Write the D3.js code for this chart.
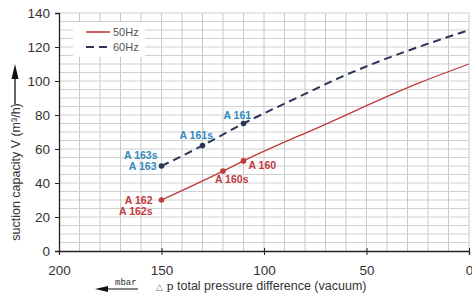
<!DOCTYPE html>
<html>
<head>
<meta charset="utf-8">
<script src="https://cdn.jsdelivr.net/npm/d3@7"></script>
<style>
	body { margin: 0; background: #fff; }
	svg { font-family: "Liberation Sans", Arial, sans-serif; }
</style>
</head>
<body>
<svg id="chart" width="472" height="298"></svg>
<script>
// pressure difference (mbar) and suction capacity (m3/h)
var pressure50 = [150, 120, 110, 72, 24, 0];
var flow50 = [30, 47, 53, 73.5, 99, 110];
var pressure60 = [150, 130, 110, 85, 63, 0];
var flow60 = [50, 62, 75, 89.5, 102, 130];

// pumps marked on the curves: [name, pressure]
var pumps50 = [["A 162", 150], ["A 160s", 120], ["A 160", 110]];
var pumps60 = [["A 163", 150], ["A 161s", 130], ["A 161", 110]];

var xTicks = [200, 150, 100, 50, 0];
var yTicks = [0, 20, 40, 60, 80, 100, 120, 140];
var legendNames = ["50Hz", "60Hz"];

var RED = "#c0393b";
var NAVY = "#2c3556";
var BLUE = "#3489be";

var svg = d3.select("#chart");
var plotLeft = 59, plotRight = 469, plotTop = 13, plotBottom = 251;

var x = d3.scaleLinear().domain([200, 0]).range([plotLeft, plotRight]);
var y = d3.scaleLinear().domain([0, 140]).range([plotBottom, plotTop]);

//===============================================
// grid
//===============================================
var grid = svg.append("g");
grid.selectAll("line.v")
	.data(d3.range(190, -1, -10))
	.enter().append("line")
	.attr("x1", function (d){return x(d);})
	.attr("x2", function (d){return x(d);})
	.attr("y1", plotTop).attr("y2", plotBottom)
	.attr("stroke", "#c8c8c8").attr("stroke-width", 1);
grid.selectAll("line.h")
	.data(d3.range(5, 141, 5))
	.enter().append("line")
	.attr("x1", plotLeft).attr("x2", plotRight)
	.attr("y1", function (d){return y(d);})
	.attr("y2", function (d){return y(d);})
	.attr("stroke", "#d0d0d0").attr("stroke-width", 1);

// legend box hides the grid
svg.append("rect")
	.attr("x", 73).attr("y", 22).attr("width", 72).attr("height", 35)
	.attr("fill", "#fff");

//===============================================
// axes
//===============================================
var xAxis = svg.append("g")
	.attr("transform", "translate(0," + plotBottom + ")")
	.call(d3.axisBottom(x).tickValues(xTicks).tickSize(4).tickPadding(10));
xAxis.select(".domain").attr("stroke", "#222").attr("stroke-width", 1.3);
xAxis.selectAll(".tick line").attr("stroke", "#222").attr("y1", -3).attr("y2", 4);
xAxis.selectAll(".tick text").attr("font-size", 13.5).attr("fill", "#333")
	.attr("font-family", "Liberation Sans, Arial, sans-serif");

var yAxis = svg.append("g")
	.attr("transform", "translate(" + plotLeft + ",0)")
	.call(d3.axisLeft(y).tickValues(yTicks).tickSize(4).tickPadding(5));
yAxis.select(".domain").attr("stroke", "#222").attr("stroke-width", 1.3);
yAxis.selectAll(".tick line").attr("stroke", "#222");
yAxis.selectAll(".tick text").attr("font-size", 13.5).attr("fill", "#333")
	.attr("font-family", "Liberation Sans, Arial, sans-serif");

//===============================================
// curves
//===============================================
var line = d3.line()
	.x(function (d){return x(d[0]);})
	.y(function (d){return y(d[1]);})
	.curve(d3.curveMonotoneX);

var series50 = d3.zip(pressure50, flow50);
var series60 = d3.zip(pressure60, flow60);

svg.append("path").datum(series50)
	.attr("d", line).attr("fill", "none")
	.attr("stroke", RED).attr("stroke-width", 1.3);
svg.append("path").datum(series60)
	.attr("d", line).attr("fill", "none")
	.attr("stroke", NAVY).attr("stroke-width", 2)
	.attr("stroke-dasharray", "8,5");

function flowAt(pArr, fArr, p){
	var i = pArr.indexOf(p);
	return fArr[i];
}

// label layout: dx, dy from point, anchor, text
var labelPos = {
	"A 162": [[-9, 4, "end", "A 162"], [-9, 15, "end", "A 162s"]],
	"A 160s": [[-8, 12, "start", "A 160s"]],
	"A 160": [[5, 8, "start", "A 160"]],
	"A 163": [[-4, -7, "end", "A 163s"], [-5, 4, "end", "A 163"]],
	"A 161s": [[-23, -7, "start", "A 161s"]],
	"A 161": [[-20, -5, "start", "A 161"]]
};

function drawPumps(pumps, pArr, fArr, color, textColor){
	pumps.forEach(function (pm){
		var px = x(pm[1]), py = y(flowAt(pArr, fArr, pm[1]));
		svg.append("circle").attr("cx", px).attr("cy", py).attr("r", 2.8).attr("fill", color);
		labelPos[pm[0]].forEach(function (l){
			svg.append("text")
				.attr("x", px + l[0]).attr("y", py + l[1])
				.attr("text-anchor", l[2])
				.attr("font-size", 10.5).attr("font-weight", "bold")
				.attr("fill", textColor)
				.text(l[3]);
		});
	});
}
drawPumps(pumps50, pressure50, flow50, RED, RED);
drawPumps(pumps60, pressure60, flow60, NAVY, BLUE);

//===============================================
// legend
//===============================================
var legend = svg.append("g");
legend.append("line").attr("x1", 86).attr("x2", 110).attr("y1", 32).attr("y2", 32)
	.attr("stroke", RED).attr("stroke-width", 1.6);
legend.append("line").attr("x1", 86).attr("x2", 110).attr("y1", 47).attr("y2", 47)
	.attr("stroke", NAVY).attr("stroke-width", 2).attr("stroke-dasharray", "8,5");
legend.selectAll("text").data(legendNames).enter().append("text")
	.attr("x", 113).attr("y", function (d, i){return 36 + i * 15;})
	.attr("font-size", 11).attr("fill", "#555")
	.text(function (d){return d;});

//===============================================
// axis titles
//===============================================
svg.append("text")
	.attr("transform", "translate(20,172) rotate(-90)")
	.attr("text-anchor", "middle")
	.attr("font-size", 12.5).attr("fill", "#333")
	.text("suction capacity V (m³/h)");
svg.append("line").attr("x1", 15).attr("x2", 15).attr("y1", 104).attr("y2", 72)
	.attr("stroke", "#111").attr("stroke-width", 1.3);
svg.append("path").attr("d", "M15,64 L11.5,79 L18.5,79 Z").attr("fill", "#111");

svg.append("text")
	.attr("x", 156).attr("y", 290)
	.attr("font-size", 12.5).attr("fill", "#333")
	.html('<tspan font-size="9" fill="#777">△</tspan><tspan font-family="DejaVu Serif, serif" font-size="11"> p</tspan> total pressure difference (vacuum)');

svg.append("text")
	.attr("x", 115).attr("y", 285)
	.attr("font-family", "Liberation Mono, monospace")
	.attr("font-size", 9).attr("fill", "#333")
	.text("mbar");
svg.append("line").attr("x1", 104).attr("x2", 138).attr("y1", 289).attr("y2", 289)
	.attr("stroke", "#111").attr("stroke-width", 1.2);
svg.append("path").attr("d", "M95,289 L108,286 L108,292 Z").attr("fill", "#111");
</script>
</body>
</html>
